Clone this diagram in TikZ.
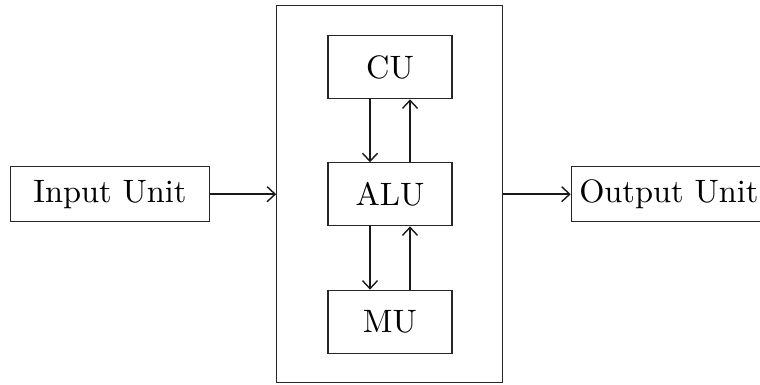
\documentclass[tikz,border=0pt]{standalone}
\usepackage{graphicx}
\usetikzlibrary{arrows.meta}
\newcommand{\bigtxt}[1]{\scalebox{3.24}{#1}}
\begin{document}
\begin{tikzpicture}[x=1pt,y=1pt,
  unit/.style={draw=black!85, line width=1.1pt, minimum width=124pt, minimum height=63pt, inner sep=0pt},
  iobox/.style={draw=black!85, line width=1.1pt, minimum height=55pt, inner sep=0pt},
  conn/.style={draw=black!90, line width=1.4pt, -{Straight Barb[length=8pt,width=15pt,line width=1.4pt]}}]
\useasboundingbox (0,0) rectangle (760,385);
\node[draw=black!85, line width=1.1pt, minimum width=226pt, minimum height=377pt, inner sep=0pt] (outer) at (389.7,190.7) {};
\node[unit] (cu) at (390,317.7) {\bigtxt{CU}};
\node[unit] (alu) at (390,190.7) {\bigtxt{ALU}};
\node[unit] (mu) at (390,63.3) {\bigtxt{MU}};
\node[iobox, minimum width=198.6pt] (in) at (110,190.8) {\bigtxt{Input Unit}};
\node[iobox, anchor=west, inner xsep=8pt] (out) at (570.7,190.8) {\bigtxt{Output Unit}};
\draw[conn] (in.east) -- (outer.west |- in.east);
\draw[conn] (outer.east |- out.west) -- (out.west);
\draw[conn] (cu.south -| 370,0) -- (alu.north -| 370,0);
\draw[conn] (alu.north -| 410,0) -- (cu.south -| 410,0);
\draw[conn] (alu.south -| 370,0) -- (mu.north -| 370,0);
\draw[conn] (mu.north -| 410,0) -- (alu.south -| 410,0);
\end{tikzpicture}
\end{document}
